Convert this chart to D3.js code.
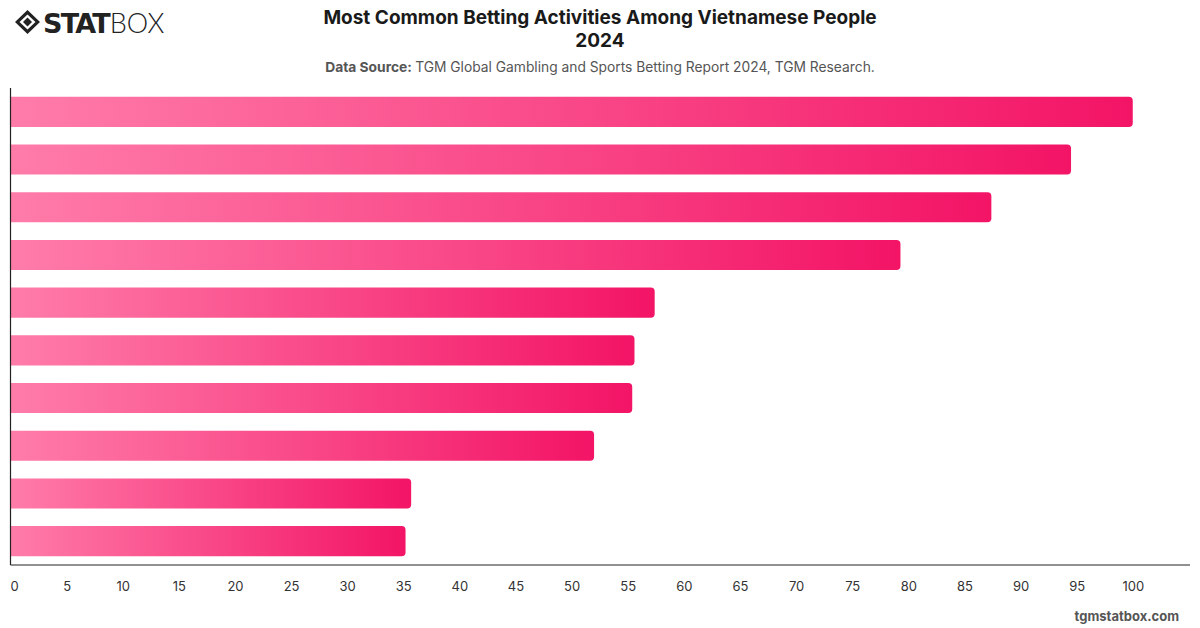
<!DOCTYPE html>
<html lang="en">
<head>
<meta charset="UTF-8">
<title>Most Common Betting Activities Among Vietnamese People 2024</title>
<script src="https://d3js.org/d3.v7.min.js"></script>
<style>
  body { margin: 0; background: #fff; font-family: Inter, "Helvetica Neue", Arial, sans-serif; }
</style>
</head>
<body>
<div id="chart"></div>
<script>
// Data (labels are not shown on the chart)
const categories = ["A1", "A2", "A3", "A4", "A5", "A6", "A7", "A8", "A9", "A10"];
const values = [100, 94.5, 87.4, 79.3, 57.4, 55.6, 55.4, 52.0, 35.7, 35.2];
const tickValues = [0, 5, 10, 15, 20, 25, 30, 35, 40, 45, 50, 55, 60, 65, 70, 75, 80, 85, 90, 95, 100];

const W = 1200, H = 628;
const plotLeft = 10.5, plotRight = 1190, plotTop = 88, plotBottom = 565;

const svg = d3.select("#chart").append("svg")
  .attr("width", W).attr("height", H);

// gradient for bars
const defs = svg.append("defs");
const grad = defs.append("linearGradient")
  .attr("id", "barGrad")
  .attr("x1", "0%").attr("x2", "100%").attr("y1", "0%").attr("y2", "0%");
grad.append("stop").attr("offset", "0%").attr("stop-color", "#ff7ca9");
grad.append("stop").attr("offset", "100%").attr("stop-color", "#f31466");

// Scales
const x = d3.scaleLinear().domain([0, 105.1]).range([plotLeft, plotRight]);
const y = d3.scaleBand().domain(categories).range([plotTop, plotBottom]).paddingInner(0.37).paddingOuter(0.185);

// Bars with rounded right end
const r = 4;
svg.append("g").selectAll("path")
  .data(values)
  .join("path")
  .attr("fill", "url(#barGrad)")
  .attr("d", (d, i) => {
    const x0 = x(0), x1 = x(d), y0 = y(categories[i]), h = y.bandwidth();
    return `M${x0},${y0}H${x1 - r}Q${x1},${y0} ${x1},${y0 + r}V${y0 + h - r}Q${x1},${y0 + h} ${x1 - r},${y0 + h}H${x0}Z`;
  });

// Axes
svg.append("line").attr("x1", plotLeft).attr("x2", plotLeft).attr("y1", plotTop).attr("y2", plotBottom)
  .attr("stroke", "#222").attr("stroke-width", 1.2);
svg.append("line").attr("x1", plotLeft).attr("x2", plotRight).attr("y1", plotBottom).attr("y2", plotBottom)
  .attr("stroke", "#222").attr("stroke-width", 1.2);

const xAxis = d3.axisBottom(x).tickValues(tickValues).tickSize(0).tickPadding(0);
svg.append("g")
  .attr("transform", `translate(0,${plotBottom + 17})`)
  .call(xAxis)
  .call(g => g.select(".domain").remove())
  .call(g => g.selectAll("text")
    .attr("fill", "#333")
    .attr("font-size", 13)
    .attr("font-family", "Inter, Helvetica, Arial, sans-serif")
    .attr("dx", d => d === 0 ? 3.5 : 0));

// Title
svg.append("text").attr("x", 600).attr("y", 24).attr("text-anchor", "middle")
  .attr("font-size", 19).attr("font-weight", 700).attr("fill", "#1a1a1a")
  .text("Most Common Betting Activities Among Vietnamese People");
svg.append("text").attr("x", 600).attr("y", 47).attr("text-anchor", "middle")
  .attr("font-size", 19).attr("font-weight", 700).attr("fill", "#1a1a1a")
  .text("2024");

const sub = svg.append("text").attr("x", 600).attr("y", 72).attr("text-anchor", "middle")
  .attr("font-size", 13.8).attr("fill", "#555");
sub.append("tspan").attr("font-weight", 700).text("Data Source: ");
sub.append("tspan").text("TGM Global Gambling and Sports Betting Report 2024, TGM Research.");

// Footer
svg.append("text").attr("x", 1179).attr("y", 621).attr("text-anchor", "end")
  .attr("font-size", 13).attr("font-weight", 700).attr("fill", "#555")
  .text("tgmstatbox.com");

// Logo
const logo = svg.append("g").attr("transform", "translate(15,10)");
logo.append("path")
  .attr("d", "M12.5,0 L25,12 L12.5,24 L0,12 Z M12.5,4.5 L20.5,12 L12.5,19.5 L4.5,12 Z")
  .attr("fill", "#222").attr("fill-rule", "evenodd");
logo.append("path").attr("d", "M12.5,7.5 L17,12 L12.5,16.5 L8,12 Z").attr("fill", "#222");
const lt = logo.append("text").attr("x", 28).attr("y", 23)
  .attr("font-size", 27).attr("fill", "#222").attr("font-family", "'DejaVu Sans', Arial, sans-serif");
lt.append("tspan").attr("font-weight", 900).attr("letter-spacing", -1.8).text("STAT");
lt.append("tspan").attr("dx", 1).attr("font-weight", 300).attr("font-family", "Lato, 'Open Sans', sans-serif").text("BOX");
</script>
</body>
</html>
